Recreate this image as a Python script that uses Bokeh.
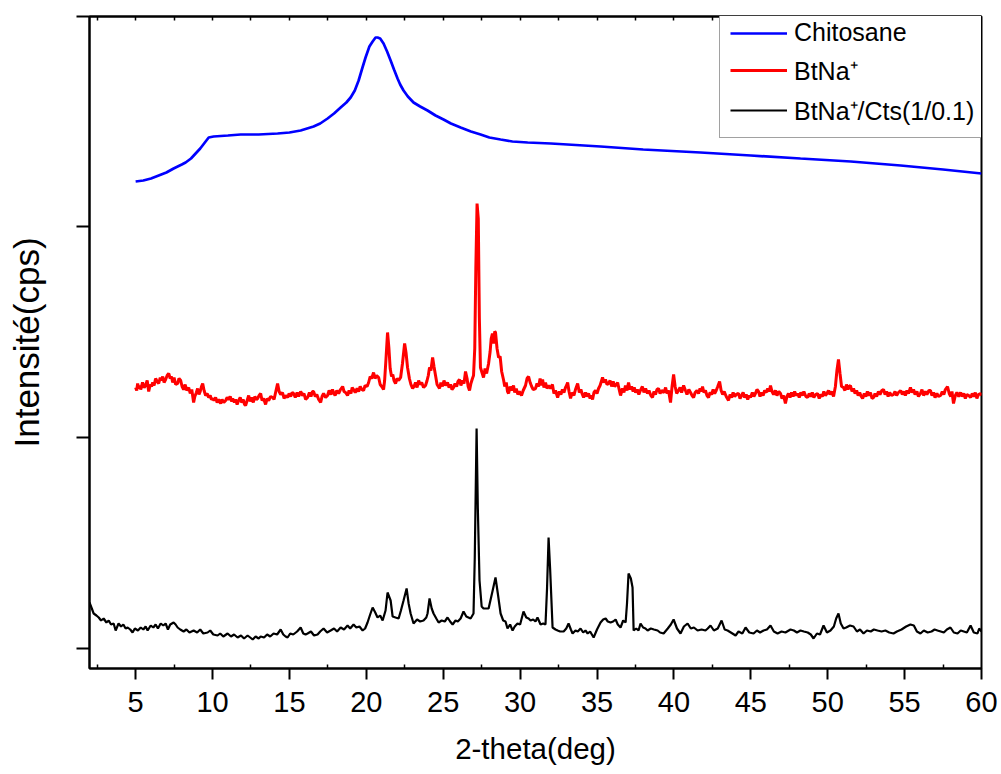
from bokeh.plotting import figure
from bokeh.models import Range1d, LinearAxis, FixedTicker, Legend, LegendItem, CustomJSTickFormatter
from bokeh.embed import file_html
from bokeh.resources import INLINE

# ---------------- data ----------------
chitosane_x = [5.0, 5.5, 6.0, 6.5, 7.0, 7.47, 8.0, 8.25, 8.6, 8.9, 9.2, 9.55, 9.75, 10.07, 11.0, 11.83,
               13.0, 14.23, 15.0, 15.73, 16.57, 17.0, 17.48, 17.9, 18.33, 18.7, 18.98, 19.25, 19.5, 19.75,
               19.95, 20.2, 20.41, 20.6, 20.73, 20.9, 21.12, 21.35, 21.58, 21.8, 22.03, 22.2, 22.42, 22.7,
               23.07, 23.5, 23.98, 24.5, 25.02, 25.5, 26.13, 26.8, 27.43, 28.0, 28.73, 29.5, 30.49, 32.0,
               35.23, 38.0, 41.73, 45.0, 48.23, 51.5, 54.74, 57.5, 60.0]
chitosane_y = [467, 468, 470, 473, 476, 480, 484, 486, 490, 495, 500, 507, 511, 512, 513, 514,
               514, 515, 516, 518, 522, 525, 530, 535, 541, 546, 551, 558, 568, 581,
               591, 602, 607, 611, 611, 610, 605, 597, 588, 579, 570, 564, 558, 552,
               546, 542, 538, 533, 529, 525, 521, 517, 514, 511, 509, 507, 506, 505,
               502, 499, 496, 493, 490, 487, 483, 479, 475]

btna_x = [5.00, 5.07, 5.13, 5.2, 5.27, 5.33, 5.45, 5.55, 5.65, 5.75, 5.85, 5.95, 6.03, 6.11, 6.2, 6.30,
          6.4, 6.50, 6.6, 6.68, 6.76, 6.85, 6.95, 7.05, 7.15, 7.25, 7.33, 7.41, 7.5, 7.6, 7.73, 7.82,
          7.93, 8.02, 8.12, 8.22, 8.32, 8.45, 8.55, 8.65, 8.77, 8.85, 8.95, 9.03, 9.12, 9.2, 9.28, 9.36,
          9.45, 9.55, 9.65, 9.75, 9.85, 9.93, 10.01, 10.1, 10.2, 10.3, 10.4, 10.53, 10.62, 10.73, 10.85,
          10.95, 11.05, 11.15, 11.25, 11.31, 11.42, 11.5, 11.6, 11.70, 11.8, 11.9, 12.0, 12.08, 12.15,
          12.25, 12.35, 12.45, 12.55, 12.65, 12.75, 12.85, 12.93, 13.03, 13.13, 13.22, 13.32, 13.45,
          13.55, 13.65, 13.78, 13.91, 14.0, 14.1, 14.23, 14.33, 14.43, 14.55, 14.65, 14.75, 14.88,
          14.98, 15.08, 15.18, 15.27, 15.38, 15.5, 15.6, 15.73, 15.85, 15.95, 16.05, 16.18, 16.3, 16.4,
          16.5, 16.57, 16.68, 16.78, 16.9, 17.03, 17.12, 17.22, 17.35, 17.48, 17.58, 17.7, 17.8, 17.87,
          17.97, 18.08, 18.2, 18.32, 18.46, 18.55, 18.65, 18.78, 18.88, 19.0, 19.08, 19.17, 19.28, 19.4,
          19.5, 19.6, 19.7, 19.82, 19.92, 20.05, 20.15, 20.25, 20.35, 20.47, 20.57, 20.67, 20.80, 20.9,
          21.0, 21.12, 21.19, 21.28, 21.38, 21.47, 21.55, 21.64, 21.72, 21.8, 21.90, 22.0, 22.1, 22.23,
          22.35, 22.49, 22.58, 22.68, 22.8, 22.9, 23.01, 23.1, 23.2, 23.3, 23.40, 23.5, 23.6, 23.72,
          23.85, 23.95, 24.03, 24.11, 24.2, 24.31, 24.4, 24.50, 24.6, 24.76, 24.85, 24.95, 25.05, 25.15,
          25.28, 25.38, 25.48, 25.57, 25.67, 25.77, 25.87, 25.96, 26.06, 26.15, 26.25, 26.35, 26.45,
          26.55, 26.62, 26.71, 26.8, 26.9, 26.97, 27.05, 27.12, 27.20, 27.28, 27.35, 27.42, 27.52,
          27.62, 27.72, 27.82, 27.95, 28.05, 28.12, 28.20, 28.27, 28.35, 28.40, 28.5, 28.60, 28.7,
          28.8, 28.93, 29.0, 29.1, 29.18, 29.25, 29.35, 29.45, 29.57, 29.65, 29.75, 29.85, 29.95,
          30.09, 30.2, 30.35, 30.45, 30.55, 30.65, 30.75, 30.85, 31.00, 31.1, 31.2, 31.3, 31.38, 31.46,
          31.55, 31.65, 31.75, 31.85, 31.98, 32.1, 32.2, 32.3, 32.44, 32.55, 32.65, 32.75, 32.85, 32.95,
          33.02, 33.09, 33.18, 33.28, 33.38, 33.5, 33.6, 33.74, 33.85, 33.95, 34.05, 34.13, 34.25,
          34.35, 34.45, 34.55, 34.62, 34.71, 34.8, 34.9, 35.0, 35.1, 35.2, 35.30, 35.36, 35.45, 35.55,
          35.65, 35.75, 35.85, 35.95, 36.05, 36.15, 36.25, 36.34, 36.44, 36.53, 36.65, 36.75, 36.85,
          36.95, 37.05, 37.15, 37.25, 37.35, 37.42, 37.51, 37.62, 37.72, 37.82, 37.95, 38.05, 38.16,
          38.28, 38.38, 38.5, 38.61, 38.7, 38.8, 38.9, 39.00, 39.1, 39.2, 39.35, 39.46, 39.55, 39.65,
          39.78, 39.88, 39.98, 40.08, 40.18, 40.30, 40.4, 40.5, 40.63, 40.75, 40.85, 40.97, 41.08,
          41.18, 41.28, 41.38, 41.5, 41.6, 41.7, 41.78, 41.86, 41.95, 42.05, 42.15, 42.25, 42.35,
          42.45, 42.55, 42.65, 42.75, 42.85, 42.97, 43.07, 43.17, 43.27, 43.4, 43.55, 43.65, 43.75,
          43.85, 43.95, 44.05, 44.20, 44.3, 44.4, 44.5, 44.6, 44.7, 44.8, 44.9, 44.98, 45.1, 45.2,
          45.3, 45.40, 45.50, 45.6, 45.7, 45.8, 45.9, 46.0, 46.1, 46.2, 46.28, 46.38, 46.48, 46.6,
          46.7, 46.82, 46.93, 47.03, 47.13, 47.25, 47.35, 47.45, 47.55, 47.65, 47.75, 47.85, 47.95,
          48.04, 48.15, 48.25, 48.35, 48.45, 48.58, 48.69, 48.8, 48.9, 49.0, 49.1, 49.22, 49.34,
          49.45, 49.55, 49.65, 49.75, 49.85, 49.95, 50.05, 50.15, 50.25, 50.38, 50.5, 50.6, 50.70,
          50.8, 50.9, 51.03, 51.12, 51.22, 51.32, 51.40, 51.48, 51.58, 51.68, 51.78, 51.88, 51.98,
          52.08, 52.18, 52.27, 52.38, 52.48, 52.58, 52.68, 52.78, 52.88, 52.98, 53.08, 53.18, 53.3,
          53.4, 53.52, 53.63, 53.73, 53.83, 53.93, 54.03, 54.15, 54.28, 54.38, 54.48, 54.6, 54.74,
          54.85, 54.95, 55.05, 55.15, 55.25, 55.38, 55.48, 55.58, 55.68, 55.8, 55.9, 56.03, 56.13,
          56.23, 56.35, 56.45, 56.58, 56.68, 56.78, 56.88, 56.98, 57.1, 57.2, 57.34, 57.45, 57.55,
          57.65, 57.79, 57.9, 58.0, 58.08, 58.18, 58.3, 58.4, 58.52, 58.64, 58.75, 58.85, 58.95, 59.05,
          59.17, 59.29, 59.4, 59.5, 59.6, 59.7, 59.8, 59.94, 60.0]
btna_y = [261, 258, 265, 260, 263, 259, 266, 261, 263, 268, 257, 264, 262, 266, 263, 270,
          267, 265, 271, 268, 272, 266, 269, 273, 275, 270, 272, 266, 271, 264, 265, 270,
          268, 262, 259, 264, 258, 261, 255, 259, 246, 252, 256, 260, 254, 257, 262, 265,
          258, 253, 255, 251, 253, 249, 250, 248, 251, 246, 249, 245, 249, 246, 248,
          251, 249, 252, 247, 250, 246, 249, 244, 248, 251, 246, 249, 244, 243,
          248, 253, 247, 251, 246, 252, 249, 250, 253, 255, 248, 250, 244,
          250, 248, 252, 251, 249, 256, 265, 257, 254, 256, 250, 253, 251,
          255, 252, 256, 255, 251, 256, 252, 257, 253, 255, 249, 251, 256, 252,
          257, 257, 252, 254, 249, 246, 252, 255, 251, 253, 258, 254, 259, 256,
          253, 258, 255, 259, 262, 257, 256, 253, 258, 255, 261, 259, 256, 260,
          257, 262, 259, 258, 263, 262, 266, 272, 270, 276, 270, 273, 271, 264,
          262, 259, 268, 290, 316, 300, 280, 272, 274, 268, 265, 270, 268, 271,
          285, 305, 296, 281, 270, 264, 260, 262, 266, 261, 268, 264, 266, 261,
          263, 268, 273, 281, 278, 291, 282, 273, 264, 260, 266, 262, 268, 263,
          266, 261, 264, 259, 261, 265, 262, 267, 269, 263, 268, 265, 277,
          270, 262, 258, 265, 270, 273, 300, 380, 445, 430, 330, 281, 276,
          271, 280, 275, 285, 297, 310, 315, 305, 317, 316, 300, 291, 292,
          277, 268, 262, 266, 257, 255, 262, 258, 263, 256, 260, 254, 257,
          253, 258, 263, 270, 272, 266, 262, 259, 260, 265, 262, 270, 263, 269,
          261, 266, 260, 263, 260, 264, 255, 258, 251, 257, 254, 259, 256, 261,
          263, 266, 257, 250, 256, 253, 259, 265, 256, 259, 254, 251, 256,
          252, 255, 250, 253, 249, 256, 258, 255, 260, 263, 268, 271, 266, 269,
          264, 265, 268, 262, 267, 262, 264, 266, 259, 253, 260, 256, 263,
          258, 266, 259, 262, 257, 261, 256, 259, 254, 258, 262, 256, 260,
          255, 258, 253, 251, 257, 254, 259, 260, 255, 258, 256, 261, 255, 258,
          246, 262, 274, 262, 255, 258, 261, 256, 263, 258, 254, 259, 256,
          253, 251, 256, 258, 255, 260, 257, 262, 256, 258, 253, 251, 256,
          254, 259, 255, 258, 262, 267, 258, 254, 257, 252, 248, 254, 251,
          256, 252, 254, 255, 250, 253, 256, 251, 254, 249, 253, 251, 256, 252,
          255, 259, 257, 252, 256, 253, 258, 256, 260, 257, 263, 257, 254, 258,
          253, 257, 255, 250, 253, 245, 252, 255, 251, 256, 252, 257, 253,
          255, 251, 256, 253, 257, 252, 251, 255, 252, 256, 251, 254, 255,
          250, 254, 252, 257, 253, 255, 258, 254, 257, 252, 262, 278, 289,
          275, 262, 261, 258, 264, 259, 262, 263, 257, 260, 255, 258, 253,
          256, 252, 250, 255, 252, 257, 253, 256, 250, 251, 255, 252, 257,
          254, 258, 259, 254, 257, 252, 256, 253, 254, 257, 253, 256, 258,
          254, 257, 253, 258, 255, 261, 256, 259, 254, 257, 252, 255, 259,
          253, 257, 254, 258, 258, 253, 256, 251, 255, 252, 253, 257, 254,
          259, 262, 255, 252, 257, 245, 253, 256, 252, 256, 252, 255, 250, 254,
          253, 251, 255, 252, 256, 250, 254, 255, 253]

composite_x = [2.0, 2.15, 2.27, 2.45, 2.6, 2.75, 2.92, 3.1, 3.25, 3.4, 3.57, 3.70, 3.89, 4.05, 4.2, 4.35,
               4.48, 4.65, 4.80, 4.95, 5.15, 5.33, 5.5, 5.65, 5.78, 5.98, 6.15, 6.3, 6.45, 6.63, 6.8, 6.95,
               7.1, 7.25, 7.47, 7.6, 7.73, 7.9, 8.12, 8.3, 8.5, 8.77, 9.0, 9.2, 9.4, 9.68, 9.85, 10.05,
               10.33, 10.5, 10.7, 10.98, 11.2, 11.4, 11.63, 11.85, 12.05, 12.28, 12.45, 12.61, 12.8, 13.0,
               13.13, 13.35, 13.55, 13.75, 13.97, 14.2, 14.43, 14.6, 14.75, 14.88, 15.05, 15.25, 15.5,
               15.73, 15.9, 16.05, 16.18, 16.4, 16.6, 16.83, 17.0, 17.22, 17.45, 17.68, 17.9, 18.1, 18.33,
               18.55, 18.78, 18.95, 19.17, 19.35, 19.55, 19.76, 19.92, 20.08, 20.25, 20.41, 20.58, 20.73,
               20.9, 21.06, 21.25, 21.38, 21.58, 21.71, 21.9, 22.10, 22.25, 22.42, 22.62, 22.75, 22.88,
               23.07, 23.3, 23.5, 23.72, 23.9, 23.98, 24.11, 24.25, 24.37, 24.55, 24.70, 24.9, 25.1, 25.28,
               25.45, 25.61, 25.8, 25.95, 26.13, 26.32, 26.5, 26.78, 26.97, 27.05, 27.17, 27.25, 27.36,
               27.5, 27.62, 27.95, 28.2, 28.40, 28.55, 28.73, 28.9, 29.05, 29.18, 29.35, 29.51, 29.65,
               29.83, 30.0, 30.22, 30.4, 30.55, 30.68, 30.85, 31.0, 31.13, 31.33, 31.5, 31.65, 31.75,
               31.85, 31.95, 32.11, 32.3, 32.44, 32.6, 32.83, 33.0, 33.15, 33.3, 33.41, 33.6, 33.75, 33.93,
               34.1, 34.25, 34.39, 34.55, 34.78, 35.0, 35.23, 35.4, 35.56, 35.7, 35.88, 36.05, 36.21,
               36.35, 36.53, 36.7, 36.86, 36.95, 37.05, 37.2, 37.31, 37.38, 37.55, 37.7, 37.83, 38.0,
               38.15, 38.29, 38.5, 38.7, 38.94, 39.1, 39.33, 39.6, 39.8, 39.98, 40.2, 40.43, 40.65, 40.89,
               41.1, 41.3, 41.54, 41.8, 42.05, 42.2, 42.38, 42.6, 42.85, 43.10, 43.3, 43.49, 43.7, 44.01,
               44.2, 44.45, 44.66, 44.9, 45.18, 45.4, 45.6, 45.83, 46.05, 46.28, 46.5, 46.74, 47.0, 47.25,
               47.58, 47.8, 48.0, 48.23, 48.45, 48.7, 48.9, 49.08, 49.3, 49.5, 49.73, 49.95, 50.18, 50.4,
               50.55, 50.70, 50.85, 51.03, 51.2, 51.45, 51.68, 51.9, 52.1, 52.33, 52.55, 52.8, 53.0, 53.24,
               53.5, 53.75, 54.0, 54.28, 54.5, 54.8, 55.1, 55.38, 55.6, 55.8, 56.03, 56.25, 56.5, 56.75,
               56.95, 57.14, 57.35, 57.55, 57.75, 57.98, 58.2, 58.44, 58.65, 58.85, 59.05, 59.29, 59.5,
               59.74, 59.85, 60.0]
composite_y = [46, 40, 35, 33, 31, 28, 30, 26, 28, 24, 25, 18, 25, 22, 24, 20,
               21, 19, 16, 20, 18, 21, 19, 22, 18, 23, 21, 24, 20, 25, 23, 25,
               19, 24, 26, 24, 21, 19, 17, 19, 16, 18, 16, 19, 15, 16, 18, 14,
               13, 15, 12, 15, 12, 14, 11, 13, 10, 13, 11, 9, 12, 10,
               12, 11, 14, 12, 15, 14, 19, 14, 12, 11, 15, 14, 17,
               21, 15, 14, 15, 17, 13, 14, 17, 20, 16, 18, 20, 17, 21,
               19, 23, 20, 24, 21, 22, 18, 20, 26, 34, 41, 36, 31,
               33, 28, 38, 56, 48, 32, 31, 30, 38, 48, 60, 45, 35,
               25, 29, 27, 28, 31, 35, 50, 40, 35, 30, 26, 28, 27, 31,
               27, 24, 28, 27, 30, 37, 32, 30, 35, 90, 220, 140, 68,
               42, 40, 40, 57, 71, 55, 35, 28, 27, 20, 24, 18, 22,
               25, 24, 37, 31, 30, 28, 29, 27, 31, 24, 25, 24, 60,
               111, 80, 21, 19, 18, 17, 17, 20, 25, 19, 15, 18, 17, 20,
               16, 18, 15, 17, 11, 19, 26, 29, 30, 27, 26, 27, 29,
               24, 21, 28, 26, 45, 75, 70, 61, 18, 20, 18, 25, 21,
               20, 18, 20, 19, 18, 16, 15, 20, 24, 29, 20, 15, 22, 25,
               20, 21, 18, 19, 18, 20, 23, 18, 20, 28, 19, 18, 16, 13,
               17, 15, 21, 16, 15, 18, 16, 18, 19, 23, 17, 15, 17, 16,
               19, 18, 16, 18, 17, 16, 14, 10, 15, 14, 23, 16, 18, 22,
               30, 35, 25, 20, 21, 23, 22, 17, 19, 15, 18, 17, 19, 18,
               17, 18, 16, 15, 17, 19, 22, 24, 23, 17, 15, 18, 16, 17,
               19, 18, 17, 16, 19, 21, 16, 15, 18, 17, 16, 23, 16,
               15, 20, 17]

x_major_ticks = [5, 10, 15, 20, 25, 30, 35, 40, 45, 50, 55, 60]
x_minor_ticks = [2.5, 7.5, 12.5, 17.5, 22.5, 27.5, 32.5, 37.5, 42.5, 47.5, 52.5, 57.5]
top_ticks = [2.5, 5, 7.5, 10, 12.5, 15, 17.5, 20, 22.5, 25, 27.5, 30, 32.5, 35, 37.5, 40, 42.5,
             45, 47.5, 50, 52.5, 55, 57.5]
y_ticks = [0, 211, 422, 632]

series_labels = ["Chitosane", "BtNa\u207a", "BtNa\u207a/Cts(1/0.1)"]

FONT = "Liberation Sans"
blank = CustomJSTickFormatter(code="return ''")

p = figure(frame_width=892, frame_height=652,
           x_range=Range1d(2, 60), y_range=Range1d(-20, 632),
           output_backend="svg", toolbar_location=None,
           min_border_left=89, min_border_right=18, min_border_top=16, min_border_bottom=105)
p.xgrid.visible = False
p.ygrid.visible = False
p.outline_line_color = "black"
p.outline_line_width = 2
p.background_fill_color = "white"
p.border_fill_color = "white"

r_blue = p.line(chitosane_x, chitosane_y, line_color="#0000FF", line_width=2.7)
r_red = p.line(btna_x, btna_y, line_color="#FF0000", line_width=3)
r_black = p.line(composite_x, composite_y, line_color="#000000", line_width=2.2)

xa = p.xaxis[0]
xa.ticker = FixedTicker(ticks=x_major_ticks, minor_ticks=x_minor_ticks)
xa.axis_line_width = 2
xa.major_tick_line_width = 2
xa.minor_tick_line_width = 1.5
xa.major_tick_out = 11
xa.major_tick_in = 0
xa.minor_tick_in = 4
xa.minor_tick_out = 0
xa.major_label_text_font = FONT
xa.major_label_text_font_size = "29px"
xa.major_label_text_color = "black"
xa.major_label_standoff = 12
xa.axis_label = "2-theta(deg)"
xa.axis_label_text_font = FONT
xa.axis_label_text_font_size = "29.5px"
xa.axis_label_text_font_style = "normal"
xa.axis_label_text_color = "black"
xa.axis_label_standoff = 17

ya = p.yaxis[0]
ya.ticker = FixedTicker(ticks=y_ticks)
ya.formatter = blank
ya.axis_line_width = 2
ya.major_tick_line_width = 2
ya.major_tick_out = 13
ya.major_tick_in = 0
ya.minor_tick_line_color = None
ya.major_label_standoff = 0
ya.axis_label = "Intensité(cps)"
ya.axis_label_text_font = FONT
ya.axis_label_text_font_size = "35px"
ya.axis_label_text_font_style = "normal"
ya.axis_label_text_color = "black"
ya.axis_label_standoff = 31

top = LinearAxis(ticker=FixedTicker(ticks=top_ticks), formatter=blank)
top.axis_line_width = 2
top.major_tick_in = 4
top.major_tick_out = 0
top.major_tick_line_width = 1.5
top.minor_tick_line_color = None
top.major_label_standoff = 0
p.add_layout(top, "above")

legend = Legend(items=[LegendItem(label=series_labels[0], renderers=[r_blue]),
                       LegendItem(label=series_labels[1], renderers=[r_red]),
                       LegendItem(label=series_labels[2], renderers=[r_black])],
                location=(630, 530))
legend.label_text_font = FONT
legend.label_text_font_size = "25px"
legend.label_text_color = "black"
legend.glyph_width = 57
legend.glyph_height = 24
legend.label_height = 28
legend.label_standoff = 7
legend.padding = 10
legend.spacing = 6
legend.margin = 0
legend.border_line_color = "#444444"
legend.border_line_width = 1
legend.background_fill_color = "white"
legend.background_fill_alpha = 1
p.add_layout(legend)

open("out.html", "w").write(file_html(p, INLINE))
